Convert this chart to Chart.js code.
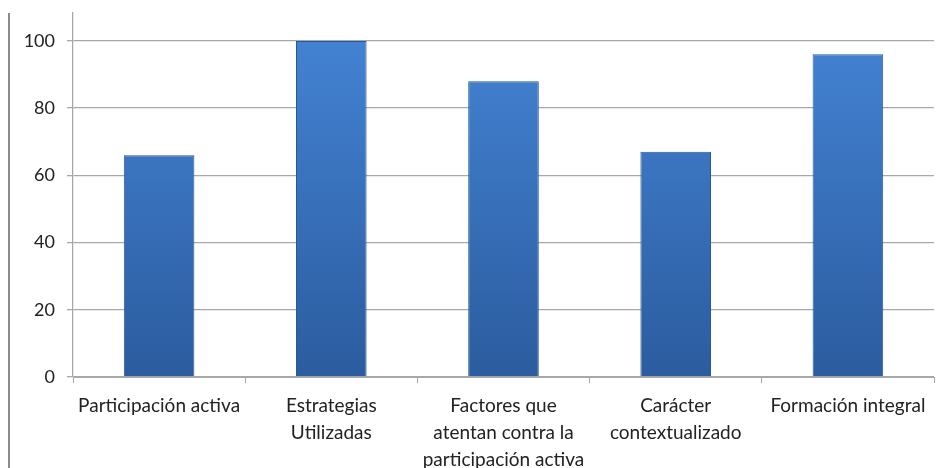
<!DOCTYPE html>
<html>
<head>
<meta charset="utf-8">
<script src="https://cdn.jsdelivr.net/npm/chart.js@4"></script>
<style>
  html, body { margin: 0; padding: 0; background: #fff; }
  #wrap { position: relative; width: 942px; height: 468px; }
  #frame { position: absolute; left: 8px; top: 13px; width: 0; height: 455px; border-left: 2px solid #8a8a8a; }
  canvas { position: absolute; left: 0; top: 0; }
</style>
</head>
<body>
<div id="wrap">
  <canvas id="barChart" width="942" height="468"></canvas>
  <div id="frame"></div>
</div>
<script>
const categorias = [
  'Participación activa',
  ['Estrategias', 'Utilizadas'],
  ['Factores que', 'atentan contra la', 'participación activa'],
  ['Carácter', 'contextualizado'],
  'Formación integral'
];
const valores = [66, 100, 88, 67, 96];
const marcasY = [0, 20, 40, 60, 80, 100];

// degradado azul de las barras
function colorBarra(context) {
  const area = context.chart.chartArea;
  if (!area) return '#3a74c0';
  const g = context.chart.ctx.createLinearGradient(0, area.top, 0, area.bottom);
  g.addColorStop(0, '#4585d6');
  g.addColorStop(1, '#2b5c9f');
  return g;
}

document.addEventListener('DOMContentLoaded', function () {
  const ctx = document.getElementById('barChart').getContext('2d');
  new Chart(ctx, {
    type: 'bar',
    data: {
      labels: categorias,
      datasets: [{
        data: valores,
        backgroundColor: colorBarra,
        borderColor: '#2a5896',
        borderWidth: 1,
        categoryPercentage: 1,
        barPercentage: 0.41
      }]
    },
    options: {
      responsive: false,
      animation: false,
      layout: { padding: { top: 13, right: 8, left: 0, bottom: 0 } },
      plugins: { legend: { display: false }, tooltip: { enabled: false } },
      scales: {
        x: {
          grid: { drawOnChartArea: false, color: '#a8a8a8', tickLength: 6, offset: true },
          border: { color: '#a8a8a8' },
          ticks: {
            color: '#222',
            font: { family: 'Lato', size: 19, lineHeight: 1.4 },
            padding: 10,
            maxRotation: 0,
            autoSkip: false
          },
          afterFit: function (scale) { scale.height = 91; }
        },
        y: {
          min: 0,
          max: 108.3,
          afterBuildTicks: function (scale) {
            scale.ticks = marcasY.map(v => ({ value: v }));
          },
          grid: { color: '#a8a8a8', lineWidth: 1.3, tickLength: 6 },
          border: { color: '#a8a8a8', width: 1.3 },
          ticks: {
            color: '#222',
            font: { family: 'Lato', size: 18 },
            padding: 12
          },
          afterFit: function (scale) {
            scale.width = 73;
            scale.paddingTop = 0;
            scale.paddingBottom = 0;
          }
        }
      }
    }
  });
});
</script>
</body>
</html>
